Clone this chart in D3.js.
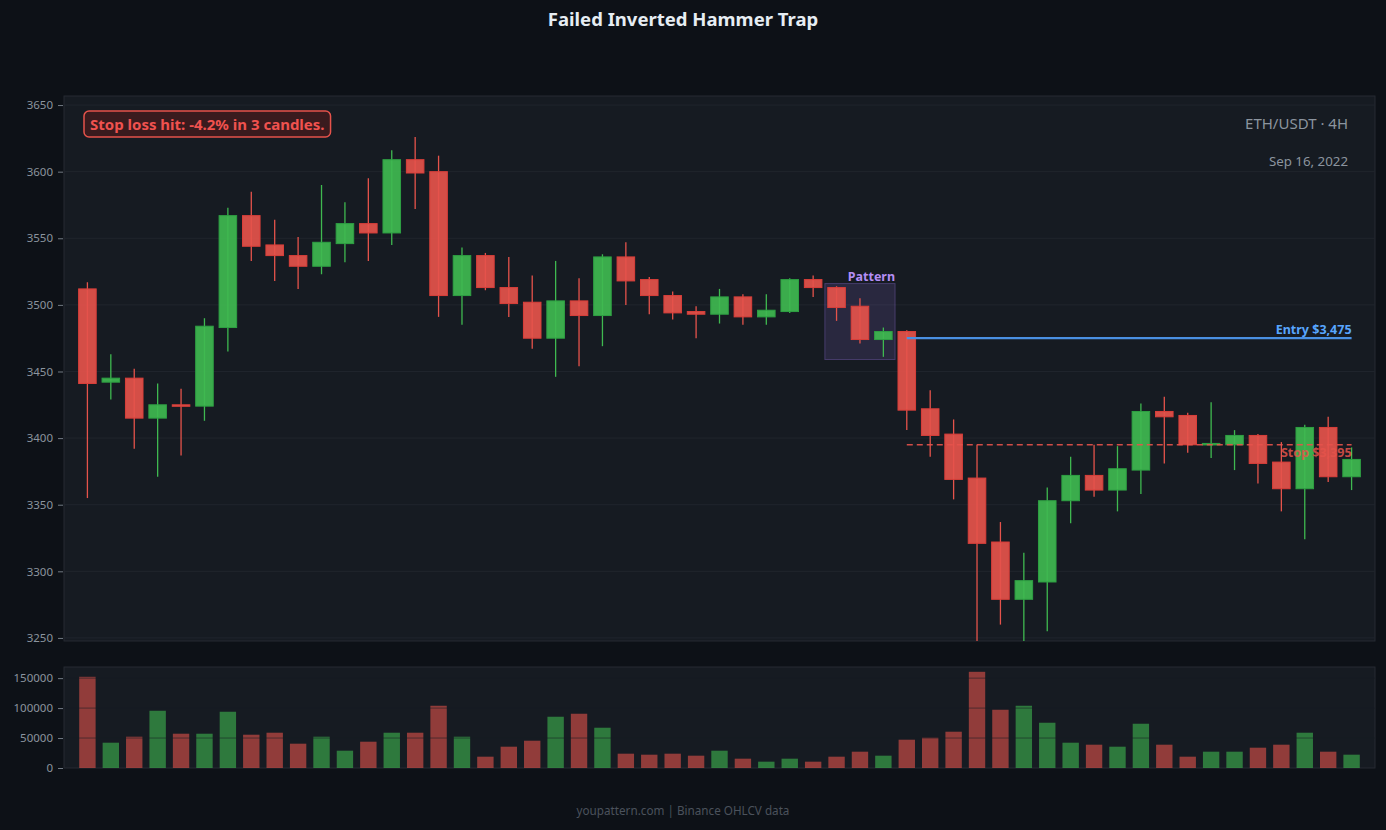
<!DOCTYPE html>
<html>
<head>
<meta charset="utf-8">
<script src="https://cdn.jsdelivr.net/npm/d3@7"></script>
<style>
  html, body { margin: 0; padding: 0; background: #0d1117; }
  svg { display: block; font-family: "Noto Sans", "Open Sans", sans-serif; }
</style>
</head>
<body>
<svg id="chart" width="1386" height="830"></svg>
<script>
// ---------- data ----------
const opens  = [3512,3442,3445,3415,3425,3424,3483,3567,3545,3537,3529,3546,3561,3554,3609,3600,3507,3537,3513,3502,3475,3503,3492,3536,3519,3507,3495,3493,3506,3491,3495,3519,3513,3499,3474,3480,3422,3403,3370,3322,3279,3292,3353,3372,3361,3376,3420,3417,3395,3395,3402,3382,3362,3408,3371];
const highs  = [3517,3463,3452,3441,3437,3490,3573,3585,3564,3551,3590,3577,3595,3616,3626,3612,3543,3539,3536,3522,3533,3520,3538,3547,3521,3510,3499,3512,3508,3508,3520,3522,3514,3505,3483,3481,3436,3414,3395,3337,3314,3363,3386,3395,3394,3426,3431,3419,3427,3406,3403,3397,3410,3416,3393];
const lows   = [3355,3429,3392,3371,3387,3413,3465,3533,3518,3512,3523,3532,3533,3545,3572,3491,3485,3511,3491,3467,3446,3454,3469,3500,3493,3489,3475,3486,3485,3485,3494,3506,3488,3471,3461,3406,3386,3354,3235,3260,3240,3255,3336,3356,3345,3358,3381,3389,3385,3376,3366,3345,3324,3367,3361];
const closes = [3441,3445,3415,3425,3424,3484,3567,3544,3537,3529,3547,3561,3554,3609,3599,3507,3537,3513,3501,3475,3503,3492,3536,3518,3507,3494,3493,3506,3491,3496,3519,3513,3498,3474,3480,3421,3402,3369,3321,3279,3293,3353,3372,3361,3377,3420,3416,3395,3396,3402,3381,3362,3408,3371,3384];
const volumes = [152222,42222,52222,95556,57222,57222,93889,55556,58889,40556,52222,28889,43889,58889,58889,103889,52222,18889,35556,45556,85556,90556,67222,23889,22222,23889,20556,28889,15556,10556,15556,10556,18889,27222,20556,47222,50556,60556,160556,97222,103889,75556,42222,38889,35556,73889,38889,18889,27222,27222,33889,38889,58889,27222,22222];
const priceTicks  = [3250,3300,3350,3400,3450,3500,3550,3600,3650];
const volumeTicks = [0,50000,100000,150000];
const patternRange = [32, 34];      // candle indices of the pattern
const entryIndex = 35;              // entry candle index
const entryPrice = 3475;
const stopPrice  = 3395;
const titleText = "Failed Inverted Hammer Trap";
const symbolText = "ETH/USDT · 4H";
const dateText = "Sep 16, 2022";
const noteText = "Stop loss hit: -4.2% in 3 candles.";
const footerText = "youpattern.com | Binance OHLCV data";

// ---------- layout ----------
const W = 1386, H = 830, CX = 683;
const L = 64, R = 1375;
const mainTop = 96, mainBottom = 641;
const volTop = 667, volBottom = 768;
const UP = "#3fb950", DOWN = "#e5534b";

const svg = d3.select("#chart");
svg.append("rect").attr("width", W).attr("height", H).attr("fill", "#0d1117");

const n = opens.length;
const data = d3.range(n).map(i => ({i, o: opens[i], h: highs[i], l: lows[i], c: closes[i], v: volumes[i]}));

const x = d3.scaleLinear().domain([-1, n]).range([L, R]);
const step = x(1) - x(0);
const y = d3.scaleLinear().domain([3247.7, 3656.8]).range([mainBottom, mainTop]);
const yv = d3.scaleLinear().domain([0, d3.max(volumes) * 1.05]).range([volBottom, volTop]);

// panels
[[mainTop, mainBottom], [volTop, volBottom]].forEach(([t, b]) => {
  svg.append("rect").attr("x", L).attr("y", t).attr("width", R - L).attr("height", b - t)
    .attr("fill", "#161b22").attr("stroke", "#262b33").attr("stroke-width", 1);
});

const defs = svg.append("defs");
defs.append("clipPath").attr("id", "clipMain").append("rect")
  .attr("x", L).attr("y", mainTop).attr("width", R - L).attr("height", mainBottom - mainTop);

// grid
svg.append("g").selectAll("line").data(priceTicks).join("line")
  .attr("x1", L).attr("x2", R).attr("y1", d => y(d)).attr("y2", d => y(d))
  .attr("stroke", "#20252d").attr("stroke-width", 1);

// axes
function styleAxis(g) {
  g.select(".domain").remove();
  g.selectAll(".tick line").attr("stroke", "#8b949e").attr("stroke-opacity", 0.8);
  g.selectAll(".tick text").attr("fill", "#8b949e").attr("font-size", 11.5)
    .attr("font-family", "Noto Sans, sans-serif");
}
svg.append("g").attr("transform", `translate(${L - 1},0)`)
  .call(d3.axisLeft(y).tickValues(priceTicks).tickSize(5).tickPadding(5).tickFormat(d3.format("d")))
  .call(styleAxis);
svg.append("g").attr("transform", `translate(${L - 1},0)`)
  .call(d3.axisLeft(yv).tickValues(volumeTicks).tickSize(5).tickPadding(5).tickFormat(d3.format("d")))
  .call(styleAxis);

// volume bars
const vw = step * 0.7;
svg.append("g").selectAll("rect").data(data).join("rect")
  .attr("x", d => x(d.i) - vw / 2).attr("width", vw)
  .attr("y", d => yv(d.v)).attr("height", d => yv(0) - yv(d.v))
  .attr("fill", d => d.c >= d.o ? UP : DOWN).attr("fill-opacity", 0.6);
// volume grid over bars
svg.append("g").selectAll("line").data(volumeTicks.slice(1)).join("line")
  .attr("x1", L).attr("x2", R).attr("y1", d => yv(d)).attr("y2", d => yv(d))
  .attr("stroke", "#161b22").attr("stroke-opacity", 0.55).attr("stroke-width", 1);

// pattern box
const pat = data.slice(patternRange[0], patternRange[1] + 1);
const pHi = d3.max(pat, d => d.h) + 2, pLo = d3.min(pat, d => d.l) - 2;
svg.append("rect")
  .attr("x", x(patternRange[0] - 0.5)).attr("width", x(patternRange[1] + 0.5) - x(patternRange[0] - 0.5))
  .attr("y", y(pHi)).attr("height", y(pLo) - y(pHi))
  .attr("fill", "#8e6fd8").attr("fill-opacity", 0.16)
  .attr("stroke", "#8e6fd8").attr("stroke-opacity", 0.35).attr("stroke-width", 1);
svg.append("text").attr("x", x(patternRange[1] + 0.5)).attr("y", y(pHi) - 3)
  .attr("text-anchor", "end").attr("font-size", 12.5).attr("font-weight", "bold")
  .attr("fill", "#b48ef5").text("Pattern");

// candles
const cg = svg.append("g").attr("clip-path", "url(#clipMain)");
const bw = step * 0.75;
cg.selectAll("line.wick").data(data).join("line").attr("class", "wick")
  .attr("x1", d => x(d.i)).attr("x2", d => x(d.i))
  .attr("y1", d => y(d.h)).attr("y2", d => y(d.l))
  .attr("stroke", d => d.c >= d.o ? UP : DOWN).attr("stroke-width", 1.3);
cg.selectAll("rect.body").data(data).join("rect").attr("class", "body")
  .attr("x", d => x(d.i) - bw / 2).attr("width", bw)
  .attr("y", d => y(Math.max(d.o, d.c)))
  .attr("height", d => Math.max(1.5, Math.abs(y(d.o) - y(d.c))))
  .attr("fill", d => d.c >= d.o ? UP : DOWN).attr("fill-opacity", 0.92)
  .attr("stroke", d => d.c >= d.o ? "#2ea043" : "#da3f3a").attr("stroke-width", 1);

// entry & stop lines
svg.append("line").attr("x1", x(entryIndex)).attr("x2", x(n - 1))
  .attr("y1", y(entryPrice)).attr("y2", y(entryPrice))
  .attr("stroke", "#4a90e2").attr("stroke-width", 2.2);
svg.append("text").attr("x", x(n - 1)).attr("y", y(entryPrice) - 4)
  .attr("text-anchor", "end").attr("font-size", 12.5).attr("font-weight", "bold")
  .attr("fill", "#58a6ff").text("Entry $" + d3.format(",")(entryPrice));
svg.append("line").attr("x1", x(entryIndex)).attr("x2", x(n - 1))
  .attr("y1", y(stopPrice)).attr("y2", y(stopPrice))
  .attr("stroke", DOWN).attr("stroke-width", 1.6).attr("stroke-dasharray", "6,4").attr("stroke-opacity", 0.9);
svg.append("text").attr("x", x(n - 1)).attr("y", y(stopPrice) + 12)
  .attr("text-anchor", "end").attr("font-size", 12.5).attr("font-weight", "bold")
  .attr("fill", DOWN).attr("fill-opacity", 0.85).text("Stop $" + d3.format(",")(stopPrice));

// annotation box
const note = svg.append("g");
const nt = note.append("text").attr("x", 90).attr("y", 129.5)
  .attr("font-size", 15).attr("font-weight", "bold").attr("fill", "#f0524f").text(noteText);
const bb = nt.node().getBBox();
note.insert("rect", "text").attr("x", bb.x - 6).attr("y", 111).attr("width", bb.width + 12).attr("height", 26)
  .attr("rx", 5).attr("fill", "#3a1b1e").attr("stroke", "#e5534b").attr("stroke-width", 1.5);

// corner labels
svg.append("text").attr("x", 1348).attr("y", 129).attr("text-anchor", "end")
  .attr("font-size", 15).attr("fill", "#8b949e").text(symbolText);
svg.append("text").attr("x", 1348).attr("y", 166).attr("text-anchor", "end")
  .attr("font-size", 13.3).attr("fill", "#8b949e").text(dateText);

// title & footer
svg.append("text").attr("x", CX).attr("y", 26).attr("text-anchor", "middle")
  .attr("font-size", 18.5).attr("font-weight", "bold").attr("fill", "#e6edf3").text(titleText);
svg.append("text").attr("x", CX).attr("y", 815).attr("text-anchor", "middle")
  .attr("font-size", 11.7).attr("fill", "#4b525c").text(footerText);
</script>
</body>
</html>
